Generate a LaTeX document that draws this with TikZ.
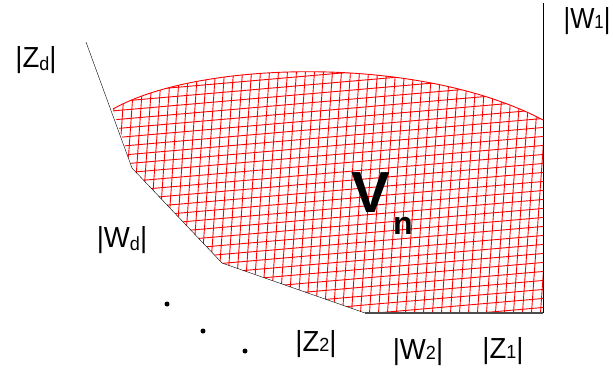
\documentclass[tikz,border=0pt]{standalone}
\usepackage{fontspec}
\setmainfont{Liberation Sans}
\begin{document}
\begin{tikzpicture}[x=1pt, y=-1pt, >=latex,
    lab/.style={font=\fontsize{29}{29}\selectfont, inner sep=0pt, xscale=0.95},
    hatch/.style={red, line width=0.9pt}]
        \useasboundingbox (0,0) rectangle (613,373);

        % Punti del bordo
        \coordinate (Top) at (86,42);
        \coordinate (A) at (113,109);
        \coordinate (B) at (132,168);
        \coordinate (C) at (222,263);
        \coordinate (D) at (365,313);
        \coordinate (E) at (543,313);
        \coordinate (F) at (543,120);
        \coordinate (G) at (543,3);

        % Regione tratteggiata
        \begin{scope}
            \clip (A) .. controls (200,60) and (420,55) .. (F) -- (E) -- (D) -- (C) -- (B) -- cycle;
            \foreach \k in {40,49,...,400}
                \draw[hatch] (100,\k) -- (560,\k-40);
            \foreach \k in {100,109,...,620}
                \draw[hatch] (\k,50) -- (\k-19,320);
        \end{scope}
        \draw[hatch] (A) .. controls (200,60) and (420,55) .. (F);

        % Bordo
        \draw[thin] (Top) -- (B) -- (C) -- (D);
        \draw[line width=1.3pt, black!70] (D) -- (E);
        \draw[thin] (E) -- (G);

        % Etichette
        \node[lab] (zd) at (36,60) {|Z\raisebox{-0.2ex}{\fontsize{19}{19}\selectfont d}|};
        \node[lab, xscale=0.93] (w1) at (587,21) {|W\fontsize{19}{19}\selectfont 1\fontsize{29}{29}\selectfont|};
        \node[lab] (wd) at (122,240) {|W\raisebox{-0.2ex}{\fontsize{19}{19}\selectfont d}|};
        \node[lab] (z2) at (316,344) {|Z\fontsize{19}{19}\selectfont 2\fontsize{29}{29}\selectfont|};
        \node[lab] (w2) at (418,352) {|W\fontsize{19}{19}\selectfont 2\fontsize{29}{29}\selectfont|};
        \node[lab] (z1) at (503,351) {|Z\fontsize{19}{19}\selectfont 1\fontsize{29}{29}\selectfont|};
        \node[font=\fontsize{58}{58}\bfseries, inner sep=0pt] (V) at (371,193) {V};
        \node[font=\fontsize{32}{32}\bfseries, inner sep=0pt] (n) at (403,226) {n};

        % Puntini
        \fill (167,304) circle (2.5pt) coordinate (p1);
        \fill (203,331) circle (2.5pt) coordinate (p2);
        \fill (245,351) circle (2.5pt) coordinate (p3);
\end{tikzpicture}
\end{document}
